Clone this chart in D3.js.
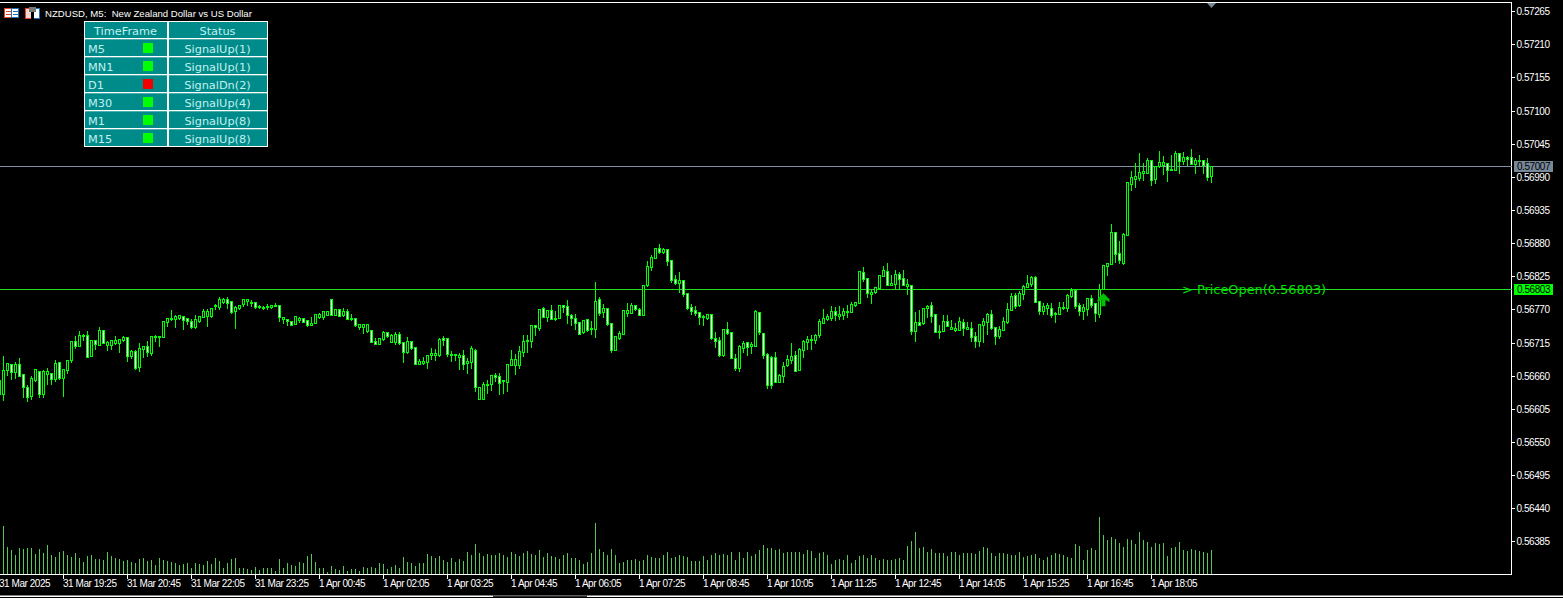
<!DOCTYPE html>
<html><head><meta charset="utf-8">
<style>html,body{margin:0;padding:0;background:#000;overflow:hidden}svg{display:block}
.ax text{font-family:"Liberation Sans",Arial,sans-serif;font-size:10px;letter-spacing:-0.45px;fill:#fff}
.ax line,.ax path{stroke:#fff;shape-rendering:crispEdges}
</style>
<script src="https://cdn.jsdelivr.net/npm/d3@7"></script></head><body>
<script>
// Prices are in points above 0.56000 (1 point = 0.00001). First bar is partly off the left edge.
const BASE = 0.56;
const highs=[652,
694,680,680,684,690,662,646,661,670,667,670,673,664,687,682,672,685,717,727,735,
730,735,719,719,742,737,719,719,727,722,727,724,704,704,715,709,719,725,728,725,
750,755,770,762,762,758,755,755,762,760,772,772,772,780,791,790,791,783,777,778,
787,787,787,783,778,777,780,777,782,777,758,753,752,758,758,757,753,758,762,765,
767,767,787,772,772,773,772,763,757,747,745,747,735,724,724,735,733,730,733,733,
715,725,719,707,689,692,696,707,705,724,727,724,702,696,699,704,691,710,705,641,
651,654,661,666,666,654,679,704,697,710,729,729,744,744,772,775,770,778,768,777,
778,787,763,763,749,752,753,752,816,792,780,772,747,727,735,768,782,782,778,773,
812,851,861,871,879,873,870,851,828,833,820,797,780,777,767,762,763,762,734,725,
739,750,734,697,712,719,717,717,770,767,730,699,694,700,664,684,696,715,702,707,
720,727,728,730,755,772,763,777,775,777,773,778,783,783,833,841,823,803,808,826,
843,848,828,836,833,836,821,811,767,770,772,778,783,763,745,762,762,753,748,758,
755,750,750,733,745,757,765,770,740,743,758,782,798,798,801,811,828,826,826,785,
782,782,782,767,783,783,796,806,803,782,780,790,795,782,813,845,848,912,899,884,
898,980,1000,1014,1030,1014,1023,1017,1007,1033,1025,1014,1027,1033,1030,1032,1025,1037,1022,1027,
1019,1022,1007];
const bodyTops=[652,
669,680,679,678,678,662,641,656,670,667,667,667,663,680,682,670,685,716,716,727,
727,726,718,718,735,735,715,718,719,720,724,724,700,700,705,709,709,725,725,725,
750,755,755,758,760,758,755,750,753,758,767,767,772,777,787,787,787,783,773,777,
787,787,782,782,775,774,775,776,777,776,757,753,750,758,755,755,752,747,762,762,
767,766,787,770,770,767,767,755,755,745,745,745,735,717,722,732,732,727,729,729,
715,717,717,707,683,683,694,697,697,720,722,722,696,695,694,694,684,705,702,640,
646,646,661,661,659,652,679,687,687,700,717,719,744,744,770,772,768,768,755,777,
777,775,760,755,749,752,753,739,783,787,772,772,746,725,730,768,768,777,777,770,
810,841,856,871,871,870,870,851,820,818,818,797,773,768,765,758,762,762,722,719,
737,737,732,689,709,714,715,712,767,765,730,696,691,691,661,676,687,692,694,704,
717,720,720,727,750,755,758,767,767,762,767,767,778,782,833,831,821,798,806,826,
835,833,813,828,828,821,811,810,748,748,772,775,777,762,733,750,750,740,738,750,
748,740,738,725,745,750,762,762,740,737,750,770,791,793,796,808,813,823,823,783,
775,777,772,763,773,773,793,801,801,777,773,788,788,780,803,843,846,898,898,863,
894,980,989,990,997,999,1017,1017,1007,1014,1014,1012,1002,1028,1028,1022,1022,1022,1017,1017,
1017,1012,1007];
const bodyBottoms=[629,
629,668,666,666,659,640,624,626,652,629,629,662,654,654,656,656,669,685,709,709,
726,691,692,712,710,714,710,710,714,714,719,692,692,672,674,704,699,697,724,724,
724,748,753,753,755,752,750,740,740,750,757,758,758,776,773,782,780,765,767,772,
778,783,781,773,774,773,773,773,775,757,753,750,743,745,752,748,743,744,747,757,
757,760,760,760,758,760,753,753,743,740,740,733,715,712,712,720,725,715,715,713,
698,698,705,679,679,681,682,693,693,693,719,696,693,693,691,679,681,682,640,621,
621,645,646,657,647,650,649,677,677,677,699,716,717,740,739,757,757,753,753,755,
773,760,755,747,729,731,735,736,737,763,765,745,702,702,722,729,763,763,770,760,
760,810,840,855,865,865,850,818,813,813,795,772,767,763,757,756,755,722,717,694,
694,730,689,672,672,705,707,709,709,732,694,644,644,649,649,659,677,686,667,669,
702,715,719,719,727,747,753,755,760,759,760,765,765,777,780,820,796,795,798,805,
825,810,810,811,820,810,808,733,733,743,747,772,758,732,732,733,742,737,735,735,
738,737,724,717,717,743,748,738,725,725,735,748,768,775,777,795,806,811,782,767,
767,772,760,761,762,772,772,791,775,767,767,770,777,763,762,803,841,845,861,851,
846,893,977,985,987,995,995,984,985,1007,1009,1000,1000,1000,1015,1015,1019,1010,1010,1015,
1009,989,990];
const lows=[629,
619,661,654,656,658,624,618,621,651,624,624,646,646,651,654,626,664,682,705,709,
719,690,692,704,710,713,702,704,712,699,717,684,689,670,667,690,692,694,717,709,
724,742,752,740,753,737,745,738,738,748,757,742,757,770,770,780,772,763,738,770,
775,777,775,772,772,770,770,772,775,750,747,743,743,745,748,748,742,743,747,755,
753,760,760,760,758,758,753,752,742,737,730,732,715,712,712,719,724,715,712,712,
682,697,704,679,679,679,672,687,686,692,710,692,684,686,671,671,664,672,634,621,
621,631,636,651,628,631,633,677,662,672,692,699,707,727,735,757,750,753,752,755,
765,747,744,737,729,730,734,729,724,760,757,744,699,702,720,729,758,763,768,760,
760,808,835,855,863,863,843,815,812,798,792,770,762,760,745,744,753,720,707,692,
692,729,689,669,667,699,694,697,709,729,689,639,639,649,649,649,676,681,667,669,
690,704,704,714,724,747,752,752,752,753,753,757,765,775,780,816,790,780,796,805,
825,810,810,805,805,810,795,728,717,743,745,757,748,732,722,733,742,737,733,735,
727,737,717,707,709,715,728,737,712,722,735,747,768,772,775,786,806,808,782,762,
762,762,757,748,762,770,767,790,772,760,753,760,773,750,757,803,826,845,848,846,
845,893,967,972,984,984,995,975,979,1005,994,982,1000,1000,995,1010,1009,1010,995,1007,
995,984,980];
// indices of bearish bars (white bodies); all others are bullish (black bodies)
const bearBars=[-1,2,4,5,6,9,12,14,18,21,23,25,31,33,36,45,46,47,56,57,63,69,71,72,75,76,82,84,86,88,92,93,96,99,
100,102,103,110,111,115,118,123,124,125,131,133,135,137,140,141,142,143,144,146,149,151,152,158,159,164,166,167,168,
170,171,172,173,174,177,178,179,181,182,183,186,189,190,191,192,193,198,208,215,216,221,224,225,227,229,232,233,236,
240,242,243,247,248,253,258,259,262,268,269,272,273,278,279,287,291,294,296,297,300,301];
const volumes=[60,
144,81,72,57,78,75,78,78,60,75,63,87,57,51,66,69,57,51,63,48,36,54,57,45,45,42,66,54,48,45,39,42,36,33,45,48,39,42,27,48,42,39,36,33,27,30,33,18,33,30,27,39,30,48,39,18,33,45,48,18,18,15,12,21,12,18,18,18,9,45,18,33,27,24,36,33,54,60,36,18,18,6,24,15,12,24,9,15,15,9,21,18,21,18,33,30,15,21,27,18,
51,36,33,24,33,33,60,54,48,54,42,36,48,36,45,39,66,57,90,63,54,60,57,57,63,57,51,66,60,54,63,69,60,57,72,51,63,54,51,45,57,63,48,48,42,30,36,63,153,75,66,57,75,57,33,36,42,42,45,39,42,57,51,48,48,57,66,48,51,57,54,51,39,39,39,54,42,57,63,57,60,57,66,42,66,48,66,54,60,72,87,78,78,72,75,63,66,66,66,66,
60,72,69,48,63,66,57,30,42,45,42,57,33,42,54,57,48,57,48,42,45,42,42,45,48,42,84,99,126,78,81,66,75,63,63,63,54,66,66,57,63,63,63,60,69,81,78,63,54,63,63,60,57,57,66,51,54,57,60,48,42,51,57,63,60,57,51,48,90,84,42,72,78,72,171,117,102,111,105,93,81,105,102,90,126,102,96,81,93,90,93,54,78,81,96,72,69,75,72,69,66,63,72];
const priceTicks=[1265,1210,1155,1100,1045,990,935,880,825,770,715,660,605,550,495,440,385];
const timeTickBars=[-1,15,31,47,63,79,95,111,127,143,159,175,191,207,223,239,255,271,287];
const timeTickLabels=["31 Mar 2025","31 Mar 19:25","31 Mar 20:45","31 Mar 22:05","31 Mar 23:25","1 Apr 00:45","1 Apr 02:05","1 Apr 03:25","1 Apr 04:45","1 Apr 06:05","1 Apr 07:25","1 Apr 08:45","1 Apr 10:05","1 Apr 11:25","1 Apr 12:45","1 Apr 14:05","1 Apr 15:25","1 Apr 16:45","1 Apr 18:05"];
const currentPrice=1007, openPrice=803, arrowBar=275, arrowPrice=797;
const panelHeader=["TimeFrame","Status"];
const panelFrames=["M5","MN1","D1","M30","M1","M15"];
const panelStatus=["SignalUp(1)","SignalUp(1)","SignalDn(2)","SignalUp(4)","SignalUp(8)","SignalUp(8)"];
const title="NZDUSD, M5:  New Zealand Dollar vs US Dollar";

const W=1563,H=598,plotR=1511.5,plotB=574.5;
const svg=d3.select("body").append("svg").attr("width",W).attr("height",H).style("background","#000");
const x=d3.scaleLinear().domain([0,302]).range([3.5,1211.5]);
const y=d3.scaleLinear().domain([1265,385]).range([11.2,541.4]);
const v=d3.scaleLinear().domain([0,180]).range([574,514]);
const py=p=>Math.floor(y(p))+0.5;
const fmt=p=>(BASE+p/1e5).toFixed(5);
const bear=new Set(bearBars);
const bars=highs.map((h,k)=>({i:k-1,h,t:bodyTops[k],b:bodyBottoms[k],l:lows[k],vol:volumes[k]}));
const G="#00ff00";

// frame
svg.append("line").attr("x1",0).attr("x2",plotR).attr("y1",2.5).attr("y2",2.5).attr("stroke","#fff").attr("shape-rendering","crispEdges");
svg.append("line").attr("x1",plotR).attr("x2",plotR).attr("y1",2).attr("y2",575).attr("stroke","#fff").attr("shape-rendering","crispEdges");
svg.append("rect").attr("x",0).attr("y",595.5).attr("width",W).attr("height",1.5).attr("fill","#fff");
svg.append("rect").attr("x",493).attr("y",595.5).attr("width",94).attr("height",1.5).attr("fill","#333");

// volumes
svg.append("g").selectAll("line").data(bars).join("line")
 .attr("x1",d=>x(d.i)).attr("x2",d=>x(d.i)).attr("y1",574).attr("y2",d=>Math.round(v(d.vol)))
 .attr("stroke","#55c855").attr("shape-rendering","crispEdges");

// price lines
svg.append("line").attr("x1",0).attr("x2",plotR).attr("y1",py(currentPrice)).attr("y2",py(currentPrice)).attr("stroke","#8090a4").attr("shape-rendering","crispEdges");
svg.append("line").attr("x1",0).attr("x2",plotR).attr("y1",py(openPrice)).attr("y2",py(openPrice)).attr("stroke","#22dd22").attr("shape-rendering","crispEdges");

// candles
const c=svg.append("g").attr("shape-rendering","crispEdges");
c.selectAll("line").data(bars).join("line")
 .attr("x1",d=>x(d.i)).attr("x2",d=>x(d.i)).attr("y1",d=>py(d.h)).attr("y2",d=>py(d.l)+0.5).attr("stroke",G);
c.selectAll("rect").data(bars).join("rect")
 .attr("x",d=>x(d.i)-1).attr("width",2)
 .attr("y",d=>py(d.t)).attr("height",d=>Math.max(1,py(d.b)-py(d.t)))
 .attr("fill",d=>bear.has(d.i)?"#fff":"#000").attr("stroke",G);

// arrow
svg.append("path").attr("transform",`translate(${x(arrowBar)},${y(arrowPrice)})`)
 .attr("d","M0,0 L6,6 L6,9 L3,7 L2,7 L2,13 L-2,13 L-2,7 L-3,7 L-6,9 L-6,6 Z").attr("fill","#00c000");

// open label
svg.append("text").attr("x",1182).attr("y",py(openPrice)+4.5).text("> PriceOpen(0."+(56000+openPrice)+")")
 .attr("fill","#00e000").style("font-family","'DejaVu Sans'").style("font-size","12.9px");

// axes
const ax=svg.append("g").attr("class","ax").attr("transform",`translate(${plotR},0)`)
 .call(d3.axisRight(y).tickValues(priceTicks).tickFormat(fmt).tickSize(3).tickSizeOuter(0).tickPadding(2));
ax.select(".domain").remove();
ax.selectAll(".tick").attr("transform",d=>`translate(0,${Math.round(y(d))+0.5})`);
const bx=svg.append("g").attr("class","ax").attr("transform",`translate(0,${plotB})`)
 .call(d3.axisBottom(x).tickValues(timeTickBars).tickFormat((d,k)=>timeTickLabels[k]).tickSize(4).tickSizeOuter(0));
bx.select(".domain").attr("d",`M0,0H${plotR}`);
bx.selectAll(".tick").attr("transform",d=>`translate(${x(d)},0)`);
bx.selectAll(".tick text").attr("text-anchor","start").attr("x",-0.5).attr("y",5.5).attr("dy","0.71em");

// price tags
[[currentPrice,"#778899"],[openPrice,G]].forEach(([p,col])=>{
 svg.append("rect").attr("x",1514).attr("y",py(p)-5.5).attr("width",39).attr("height",11).attr("fill",col);
 svg.append("text").attr("x",1517).attr("y",py(p)+3.5).text(fmt(p)).attr("fill","#000")
  .style("font-family","'Liberation Sans'").style("font-size","10px").style("letter-spacing","-0.45px");
});

// top marker
svg.append("path").attr("d",d3.line()([[x(302)-4.5,3],[x(302)+4.5,3],[x(302),8]])).attr("fill","#778899");

// title and icons
svg.append("text").attr("x",45).attr("y",17).text(title).attr("fill","#fff")
 .style("white-space","pre").style("font-family","'Liberation Sans'").style("font-size","9.6px");
const ic=svg.append("g").attr("shape-rendering","crispEdges");
ic.append("rect").attr("x",4.5).attr("y",8.5).attr("width",7).attr("height",9).attr("fill","#fff").attr("stroke","#e8402c");
ic.append("rect").attr("x",11.5).attr("y",8.5).attr("width",7).attr("height",9).attr("fill","#fff").attr("stroke","#1c70c0");
[11,14].forEach(r=>{ic.append("rect").attr("x",6).attr("y",r).attr("width",5).attr("height",1).attr("fill","#e8402c");
 ic.append("rect").attr("x",13).attr("y",r).attr("width",5).attr("height",1).attr("fill","#1c70c0");});
ic.append("rect").attr("x",25.5).attr("y",8.5).attr("width",7).attr("height",10).attr("fill","#f4d8d0").attr("stroke","#e8402c");
ic.append("rect").attr("x",32.5).attr("y",8.5).attr("width",7).attr("height",10).attr("fill","#fff").attr("stroke","#1c70c0");
ic.append("rect").attr("x",29).attr("y",7).attr("width",7).attr("height",5).attr("fill","#777");
ic.append("rect").attr("x",31).attr("y",12).attr("width",3).attr("height",7).attr("fill","#000");

// panel
const P=svg.append("g");
const rowY=d3.scaleBand().domain(d3.range(7)).range([21.3,147.3]);
const teal="#008b8b",tc="#c4f0ee";
P.append("rect").attr("x",84).attr("y",21).attr("width",184).attr("height",126).attr("fill","#fff");
const rows=[panelHeader].concat(panelFrames.map((f,k)=>[f,panelStatus[k]]));
rows.forEach((r,k)=>{
 const ry=Math.max(22,rowY(k)), rh=rowY(k)+16.7-ry;
 P.append("rect").attr("x",85).attr("y",ry).attr("width",82).attr("height",rh).attr("fill",teal);
 P.append("rect").attr("x",169).attr("y",ry).attr("width",98).attr("height",rh).attr("fill",teal);
 const tb=rowY(k)+13.7;
 P.append("text").attr("x",k?88:125.5).attr("y",tb).attr("text-anchor",k?"start":"middle").text(r[0]).attr("fill",tc);
 P.append("text").attr("x",217.5).attr("y",tb).attr("text-anchor","middle").text(r[1]).attr("fill",tc);
 if(k) P.append("rect").attr("x",143).attr("y",Math.round(ry+3.7)).attr("width",10).attr("height",10)
   .attr("fill",r[1].includes("Up")?G:"#f00000");
});
P.selectAll("text").style("font-family","'DejaVu Sans'").style("font-size","11.3px");
</script></body></html>
